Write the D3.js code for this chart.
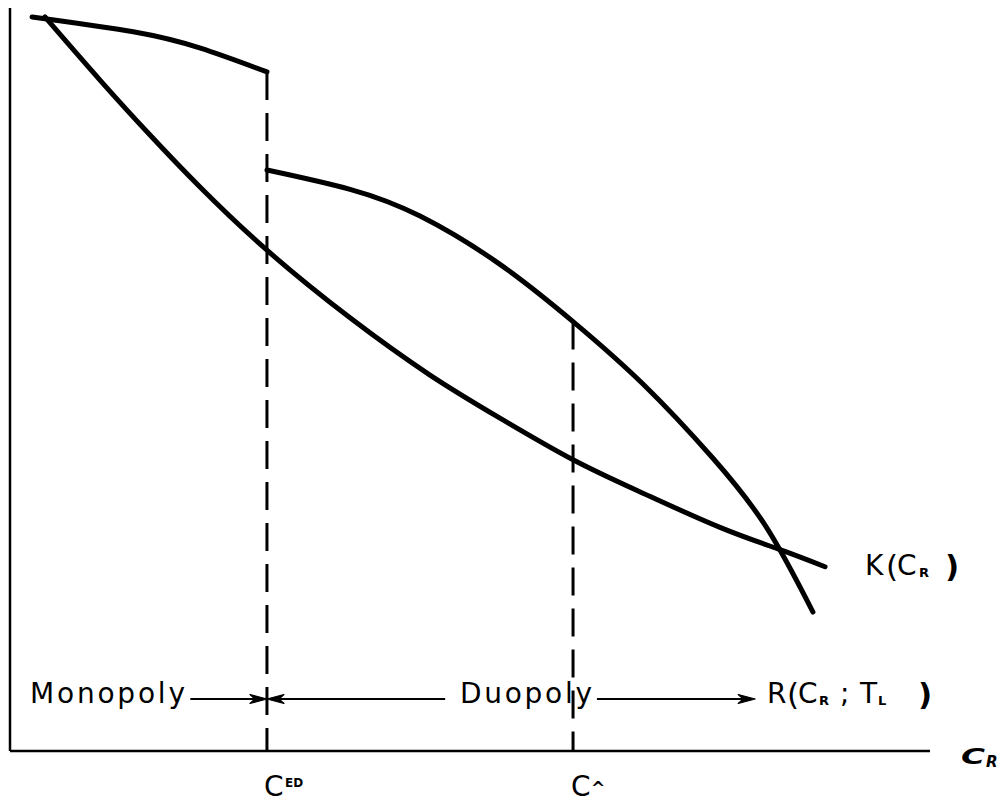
<!DOCTYPE html>
<html>
<head>
<meta charset="utf-8">
<script src="https://cdn.jsdelivr.net/npm/d3@7"></script>
<style>
  html, body { margin: 0; padding: 0; background: #fff; }
  svg { display: block; }
</style>
</head>
<body>
<svg id="chart"></svg>
<script>
// curve readings (x: C_R, y: value), both 0..100
const monoX = [2.4, 13.4, 20.7, 27.93];
const monoY = [98.8, 96.8, 94.6, 91.4];

const duoX = [27.93, 36.96, 44.57, 53.26, 61.2, 68.8, 76.41, 82.28, 87.28];
const duoY = [78.2, 75.6, 72.0, 65.5, 57.8, 49.4, 39.4, 30.0, 18.7];

const kX = [3.8, 9.78, 15.22, 20.65, 27.93, 36.96, 45.65, 53.26, 61.2, 68.8, 77.17, 83.7, 88.59];
const kY = [98.8, 90.3, 82.9, 75.9, 67.4, 58.3, 50.6, 44.8, 39.2, 34.7, 30.1, 27.1, 24.8];

// critical values on the C_R axis
const cED = 27.93;
const cHat = 61.2;

// regime arrows
const arrowY = 7.0;
const monoArrow = [19.6, cED];
const duoArrowLeft = [47.3, cED];
const duoArrowRight = [63.8, 81.0];

const width = 1008, height = 811;
const font = "'DejaVu Sans', 'Liberation Sans', sans-serif";

const svg = d3.select("#chart")
  .attr("width", width)
  .attr("height", height)
  .attr("viewBox", [0, 0, width, height]);

svg.append("rect").attr("width", width).attr("height", height).attr("fill", "#fff");

const x = d3.scaleLinear().domain([0, 100]).range([10, 930]);
const y = d3.scaleLinear().domain([0, 100]).range([751, 8]);

const line = d3.line()
  .x(d => x(d[0]))
  .y(d => y(d[1]))
  .curve(d3.curveNatural);

const zip = (a, b) => a.map((v, i) => [v, b[i]]);

// axes, just plain lines as in the original
svg.append("line")
  .attr("x1", x(0)).attr("x2", x(0))
  .attr("y1", y(100)).attr("y2", y(0))
  .attr("stroke", "#000").attr("stroke-width", 2.5);

svg.append("line")
  .attr("x1", x(0)).attr("x2", x(100))
  .attr("y1", y(0)).attr("y2", y(0))
  .attr("stroke", "#000").attr("stroke-width", 2.5);

// dashed verticals
const drops = [[cED, monoY[monoY.length - 1]], [cHat, duoY[4]]];
svg.selectAll(".drop")
  .data(drops)
  .join("line")
  .attr("class", "drop")
  .attr("x1", d => x(d[0])).attr("x2", d => x(d[0]))
  .attr("y1", d => y(d[1])).attr("y2", y(0))
  .attr("stroke", "#000")
  .attr("stroke-width", 3)
  .attr("stroke-dasharray", "28,13");

// curves
const curves = [zip(monoX, monoY), zip(duoX, duoY), zip(kX, kY)];
svg.selectAll(".curve")
  .data(curves)
  .join("path")
  .attr("class", "curve")
  .attr("d", line)
  .attr("fill", "none")
  .attr("stroke", "#000")
  .attr("stroke-width", 5)
  .attr("stroke-linecap", "round")
  .attr("stroke-linejoin", "round");

// arrows
const drawArrow = (from, to) => {
  const x0 = x(from), x1 = x(to), yy = y(arrowY);
  const dir = Math.sign(x1 - x0);
  svg.append("line")
    .attr("x1", x0).attr("x2", x1 - dir * 6)
    .attr("y1", yy).attr("y2", yy)
    .attr("stroke", "#000").attr("stroke-width", 2);
  const L = 17, W = 4.5;
  svg.append("path")
    .attr("d", `M${x1},${yy} L${x1 - dir * L},${yy - W} L${x1 - dir * (L - 5)},${yy} L${x1 - dir * L},${yy + W} Z`)
    .attr("fill", "#000")
    .attr("stroke", "#000")
    .attr("stroke-width", 1.2)
    .attr("stroke-linejoin", "round");
};
drawArrow(monoArrow[0], monoArrow[1]);
drawArrow(duoArrowLeft[0], duoArrowLeft[1]);
drawArrow(duoArrowRight[0], duoArrowRight[1]);

// one text element, pieces as tspans placed by hand
const label = (yBase, list) => {
  const t = svg.append("text")
    .attr("y", yBase)
    .attr("font-family", font)
    .attr("fill", "#000");
  list.forEach(p => {
    t.append("tspan")
      .attr("x", p.x)
      .attr("y", yBase + (p.dy || 0))
      .attr("font-size", p.size)
      .attr("font-weight", p.weight || "normal")
      .attr("font-style", p.style || "normal")
      .text(p.t);
  });
  return t;
};

svg.append("text")
  .attr("x", 30).attr("y", 703)
  .attr("font-family", font).attr("font-size", 28)
  .attr("textLength", 155).attr("lengthAdjust", "spacing")
  .text("Monopoly");

svg.append("text")
  .attr("x", 460).attr("y", 703)
  .attr("font-family", font).attr("font-size", 28)
  .attr("textLength", 132).attr("lengthAdjust", "spacing")
  .text("Duopoly");

// R(C_R ; T_L)
label(703, [
  { t: "R", x: 767, size: 28 },
  { t: "(", x: 787, size: 31, dy: 2 },
  { t: "C", x: 798, size: 28 },
  { t: "R", x: 819, size: 13, weight: "bold", dy: 2 },
  { t: ";", x: 840, size: 28 },
  { t: "T", x: 860, size: 28 },
  { t: "L", x: 878, size: 13, weight: "bold", dy: 2 },
  { t: ")", x: 918, size: 31, weight: "bold", dy: 2 }
]);

// K(C_R)
label(575, [
  { t: "K", x: 865, size: 28 },
  { t: "(", x: 886, size: 31, dy: 2 },
  { t: "C", x: 897, size: 28 },
  { t: "R", x: 919, size: 13, weight: "bold", dy: 2 },
  { t: ")", x: 945, size: 31, weight: "bold", dy: 2 }
]);

// tick labels
label(796, [
  { t: "C", x: x(cED) - 3, size: 28 },
  { t: "ED", x: x(cED) + 18, size: 12, weight: "bold", dy: -9 }
]);
label(796, [
  { t: "C", x: x(cHat) - 2, size: 28 },
  { t: "^", x: x(cHat) + 18, size: 17, weight: "bold", dy: -2 }
]);

// axis title C_R
svg.append("text")
  .attr("x", 961).attr("y", 764)
  .attr("font-family", font).attr("font-size", 22)
  .attr("font-weight", "bold").attr("font-style", "italic")
  .attr("textLength", 24).attr("lengthAdjust", "spacingAndGlyphs")
  .text("C");
svg.append("text")
  .attr("x", 986).attr("y", 767)
  .attr("font-family", font).attr("font-size", 15)
  .attr("font-weight", "bold").attr("font-style", "italic")
  .text("R");
</script>
</body>
</html>
